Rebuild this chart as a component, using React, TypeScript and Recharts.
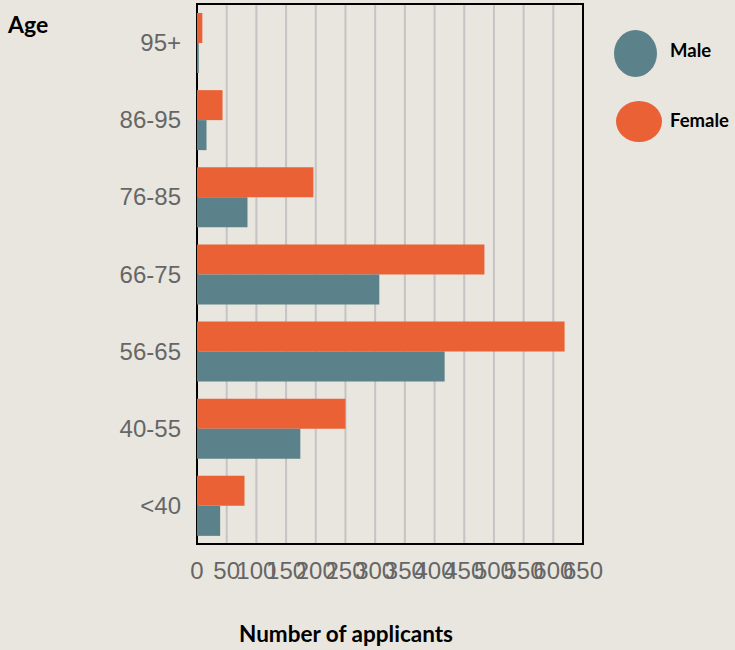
import React from "react";
import { BarChart, Bar, XAxis, YAxis, CartesianGrid, ReferenceArea } from "recharts";

const categories = ["95+", "86-95", "76-85", "66-75", "56-65", "40-55", "<40"];
const female = [9, 43, 196, 484, 619, 250, 80];
const male = [3, 16, 85, 307, 417, 174, 39];
const xTicks = [0, 50, 100, 150, 200, 250, 300, 350, 400, 450, 500, 550, 600, 650];

const data = categories.map((c, i) => ({ age: c, Female: female[i], Male: male[i] }));

const MALE = "#5b818a";
const FEMALE = "#e96135";
const BG = "#e9e6df";
const TICK_FONT = "Liberation Sans, Arial, sans-serif";
const LABEL_FONT = "Lato, sans-serif";

export default function App() {
  return (
    <div style={{ position: "fixed", left: 0, top: 0, width: 735, height: 650, background: BG, overflow: "hidden" }}>
      <BarChart
        width={735}
        height={650}
        data={data}
        layout="vertical"
        margin={{ top: 4, right: 152, bottom: 0, left: 0 }}
        barGap={0}
        barSize={30}
      >
        <CartesianGrid horizontal={false} vertical stroke="#c4c4c4" strokeWidth={2} />
        <XAxis
          type="number"
          domain={[0, 650]}
          ticks={xTicks}
          interval={0}
          height={106}
          tickSize={0}
          tickMargin={18}
          axisLine={false}
          tickLine={false}
          tick={{ fill: "#666666", fontSize: 24, fontFamily: TICK_FONT }}
        />
        <YAxis
          type="category"
          dataKey="age"
          width={197}
          tickSize={0}
          tickMargin={16}
          axisLine={false}
          tickLine={false}
          tick={{ fill: "#666666", fontSize: 24, fontFamily: TICK_FONT }}
        />
        <Bar dataKey="Female" fill={FEMALE} isAnimationActive={false} />
        <Bar dataKey="Male" fill={MALE} isAnimationActive={false} />
        <ReferenceArea x1={0} x2={650} fill="none" stroke="#000" strokeWidth={2} ifOverflow="visible" />
      </BarChart>
      <svg width={735} height={650} style={{ position: "absolute", left: 0, top: 0, pointerEvents: "none" }}>
        <text x={8} y={33} fontFamily={LABEL_FONT} fontWeight={700} fontSize={23} fill="#000">Age</text>
        <text x={346} y={642} textAnchor="middle" fontFamily={LABEL_FONT} fontWeight={700} fontSize={22.5} fill="#000">Number of applicants</text>
        <ellipse cx={635.5} cy={53.5} rx={21.5} ry={23.5} fill={MALE} />
        <text x={670} y={57} fontFamily={LABEL_FONT} fontWeight={700} fontSize={18.5} fill="#000">Male</text>
        <ellipse cx={639} cy={121.5} rx={23} ry={20.5} fill={FEMALE} />
        <text x={670} y={127} fontFamily={LABEL_FONT} fontWeight={700} fontSize={18.5} fill="#000">Female</text>
      </svg>
    </div>
  );
}
